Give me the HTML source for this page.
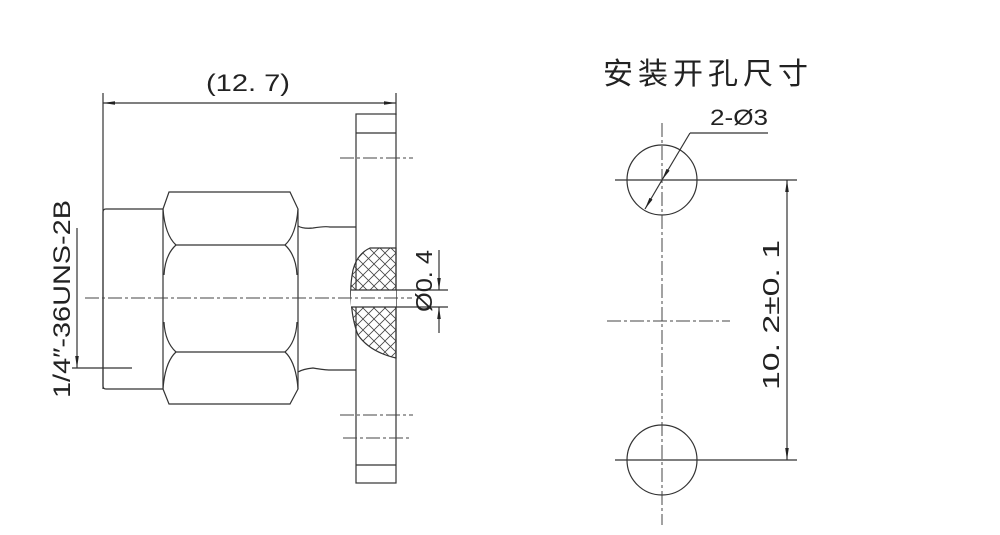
<!DOCTYPE html>
<html><head><meta charset="utf-8"><style>
html,body{margin:0;padding:0;background:#fff;width:1000px;height:535px;overflow:hidden}
svg{display:block}
text{font-family:"Liberation Sans","Noto Sans CJK SC",sans-serif;fill:#222}
</style></head><body>
<svg width="1000" height="535" viewBox="0 0 1000 535" xmlns="http://www.w3.org/2000/svg">
<defs>
<pattern id="h" width="11" height="11" patternUnits="userSpaceOnUse">
<path d="M0,0 L11,11 M11,0 L0,11" stroke="#444" stroke-width="0.8"/>
</pattern>
<marker id="a" markerWidth="10" markerHeight="6" refX="10" refY="3" orient="auto"><path d="M0,1.5 L10,3 L0,4.5 Z" fill="#222"/></marker>
<marker id="b" markerWidth="10" markerHeight="6" refX="0" refY="3" orient="auto"><path d="M10,1.5 L0,3 L10,4.5 Z" fill="#222"/></marker>
</defs>
<g stroke="#333" stroke-width="1.2" fill="none">
<line x1="103" y1="93" x2="103" y2="389"/>
<line x1="396" y1="93" x2="396" y2="115"/>
<line x1="103" y1="103" x2="396" y2="103" marker-start="url(#b)" marker-end="url(#a)"/>
<rect x="356" y="114" width="40" height="369"/>
<line x1="356" y1="133" x2="396" y2="133"/>
<line x1="356" y1="465" x2="396" y2="465"/>
<path d="M163,209 L106,209 Q103,209 103,212 L103,386 Q103,389 106,389 L163,389"/>
<path d="M169,192 L290,192 L298,209 L298,389 L290,404 L169,404 L163,389 L163,209 Z"/>
<path d="M163,209 Q165,235 176,245 L285,245 Q296,235 298,209"/>
<path d="M163,389 Q165,362 176,352 L285,352 Q296,362 298,389"/>
<path d="M176,245 Q165,255 164,275"/>
<path d="M176,352 Q165,342 164,322"/>
<path d="M285,245 Q296,255 297,275"/>
<path d="M285,352 Q296,342 297,322"/>
<path d="M298,226 Q303,229 313,228 Q325,226 330,227 L356,227"/>
<path d="M298,372 Q303,369 313,368 Q325,370 330,370 L356,370"/>
<path d="M396,248 L370,248 Q357,254 353,270 Q350,285 351,298 Q352,320 358,335 Q370,352 396,358 Z" fill="url(#h)"/>
<rect x="351" y="290" width="45" height="17" fill="#fff" stroke="none"/>
<line x1="351" y1="290" x2="448" y2="290"/>
<line x1="351" y1="307" x2="448" y2="307"/>
<line x1="439" y1="250" x2="439" y2="290" marker-end="url(#a)"/>
<line x1="439" y1="333" x2="439" y2="307" marker-end="url(#a)"/>
<line x1="77" y1="228" x2="77" y2="368" marker-end="url(#a)"/>
<line x1="72" y1="368" x2="132" y2="368"/>
<circle cx="662" cy="180" r="35"/>
<circle cx="662" cy="460" r="35"/>
<line x1="615" y1="180" x2="797" y2="180"/>
<line x1="615" y1="460" x2="797" y2="460"/>
<line x1="787" y1="180" x2="787" y2="460" marker-start="url(#b)" marker-end="url(#a)"/>
<line x1="645" y1="209" x2="662" y2="180" marker-start="url(#b)"/>
<line x1="662" y1="180" x2="690" y2="133" marker-start="url(#b)"/>
<line x1="690" y1="133" x2="768" y2="133"/>
</g>
<g stroke="#444" stroke-width="1" fill="none" stroke-dasharray="14,3,3,3">
<line x1="85" y1="298" x2="412" y2="298"/>
<line x1="340" y1="158" x2="413" y2="158"/>
<line x1="340" y1="415" x2="413" y2="415"/>
<line x1="343" y1="438" x2="410" y2="438"/>
<line x1="662" y1="123" x2="662" y2="525"/>
<line x1="607" y1="321" x2="730" y2="321"/>
</g>
<text x="206" y="91" font-size="24" textLength="84" lengthAdjust="spacingAndGlyphs">(12. 7)</text>
<text x="710" y="125" font-size="22" textLength="58" lengthAdjust="spacingAndGlyphs">2-Ø3</text>
<text x="603" y="84" font-size="30" textLength="205" lengthAdjust="spacing" style="font-family:'Noto Sans CJK SC',sans-serif">安装开孔尺寸</text>
<text transform="translate(70,398) rotate(-90)" font-size="24" textLength="198" lengthAdjust="spacingAndGlyphs">1/4″-36UNS-2B</text>
<text transform="translate(432,312) rotate(-90)" font-size="23" textLength="62" lengthAdjust="spacingAndGlyphs">Ø0. 4</text>
<text transform="translate(779,390) rotate(-90)" font-size="23" textLength="150" lengthAdjust="spacingAndGlyphs">10. 2±0. 1</text>
</svg>
</body></html>
